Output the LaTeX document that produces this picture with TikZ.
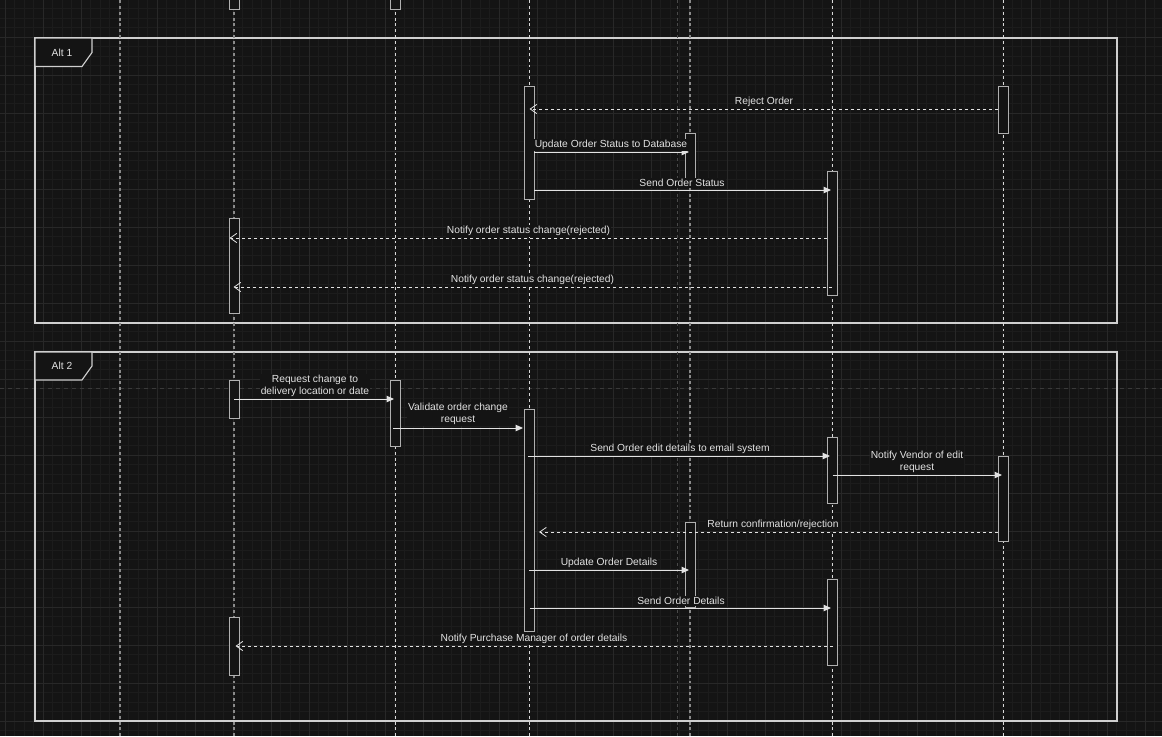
\documentclass[tikz,border=0pt]{standalone}
\usepackage{fontspec}
\setmainfont{Liberation Sans}
\usetikzlibrary{arrows.meta,fit}
\definecolor{bg}{HTML}{141414}
\definecolor{gridminor}{HTML}{1C1C1C}
\definecolor{gridmajor}{HTML}{282828}
\definecolor{fg}{HTML}{E2E2E2}
\definecolor{framec}{HTML}{CFCFCF}
\definecolor{boxc}{HTML}{B0B0B0}
\definecolor{lifew}{HTML}{D8D8D8}
\definecolor{lifeg}{HTML}{8A8A8A}
\definecolor{lifef}{HTML}{4A4A4A}
\definecolor{pagec}{HTML}{3A3A3A}
\begin{document}
\begin{tikzpicture}[x=0.75pt,y=-0.75pt,
  every node/.style={font=\fontsize{7.7pt}{9pt}\selectfont, text=fg},
  act/.style={draw=boxc, fill=bg, line width=0.7pt, inner sep=0pt, fit={#1}},
  msg/.style={draw=fg, line width=0.75pt, -{Triangle[length=5.5pt,width=4.8pt]}},
  ret/.style={draw=fg, line width=0.75pt, dash pattern=on 2.5pt off 2pt, -{Straight Barb[length=5pt,width=7pt,line width=0.6pt]}},
  lbl/.style={fill=bg, inner sep=0.8pt, align=center},
  frameline/.style={draw=framec, line width=0.85pt},
  tag/.style={draw=framec, fill=bg, line width=0.85pt},
  lifewhite/.style={draw=lifew, line width=0.7pt, dash pattern=on 2.2pt off 2.2pt},
  lifegray/.style={draw=lifeg, line width=1pt, dash pattern=on 2.2pt off 2.2pt},
  lifefaint/.style={draw=lifef, line width=0.7pt, dash pattern=on 2.2pt off 2.2pt},
  gminor/.style={draw=gridminor, line width=0.6pt},
  gmajor/.style={draw=gridmajor, line width=0.7pt}]
\useasboundingbox (0,0) rectangle (1162,736);
\clip (0,0) rectangle (1162,736);
\fill[bg] (0,0) rectangle (1162,736);
% grid
\foreach \i in {0,...,122} \draw[gminor] ({5.3+9.5*\i},0) -- ({5.3+9.5*\i},736);
\foreach \i in {0,...,78} \draw[gminor] (0,{-0.7+9.5*\i}) -- (1162,{-0.7+9.5*\i});
\foreach \i in {0,...,30} \draw[gmajor] ({5.3+38*\i},0) -- ({5.3+38*\i},736);
\foreach \i in {-1,...,18} \draw[gmajor] (0,{37.3+38*\i}) -- (1162,{37.3+38*\i});
% page break
\coordinate (pbL) at (0,388);
\coordinate (pbR) at (1162,388);
\draw[draw=pagec, line width=0.7pt, dash pattern=on 3pt off 3pt] (pbL) -- (pbR);
% frames
\coordinate (f1a) at (35,38);
\coordinate (f1b) at (1117,323);
\draw[frameline] (f1a) rectangle (f1b);
\draw[tag] (35,38) -- (92,38) -- (92,52.5) -- (82,66.5) -- (35,66.5) -- cycle;
\node (alt1) at (62,52.5) {Alt 1};
\coordinate (f2a) at (35,352);
\coordinate (f2b) at (1117,721);
\draw[frameline] (f2a) rectangle (f2b);
\draw[tag] (35,352) -- (92,352) -- (92,366) -- (82,380) -- (35,380) -- cycle;
\node (alt2) at (62,366) {Alt 2};
% lifelines
\foreach \x/\n in {120/a,234/b,690/e} {
  \coordinate (lt\n) at (\x,0); \coordinate (lb\n) at (\x,736);
  \draw[lifegray] (lt\n) -- (lb\n);
}
\foreach \x/\n in {395/c,529/d,832/f,1003/g} {
  \coordinate (lt\n) at (\x,0); \coordinate (lb\n) at (\x,736);
  \draw[lifewhite] (lt\n) -- (lb\n);
}
\coordinate (lth) at (677.5,0); \coordinate (lbh) at (677.5,736);
\draw[lifefaint] (lth) -- (lbh);
% activation boxes
\node[act={(229,-3)(239,9.5)}] (S1) {};
\node[act={(390.5,-3)(400.5,9.5)}] (S2) {};
\node[act={(524,86)(534,199)}] (A) {};
\node[act={(998,86)(1008,133)}] (B) {};
\node[act={(685,133)(695,182)}] (C) {};
\node[act={(827,171)(837,295)}] (D) {};
\node[act={(229,218)(239,313)}] (E) {};
\node[act={(229,380)(239,418)}] (F) {};
\node[act={(390.5,380)(400.5,446.5)}] (G) {};
\node[act={(524,409)(534,631)}] (H) {};
\node[act={(827,437)(837,503)}] (I) {};
\node[act={(998,456)(1008,541.5)}] (J) {};
\node[act={(685,522)(695,607)}] (K) {};
\node[act={(827,579)(837,665)}] (L) {};
\node[act={(229,617)(239,675)}] (M) {};
% messages Alt 1
\coordinate (m1s) at (998,109);   \coordinate (m1e) at (529.5,109);
\coordinate (m2s) at (534,152);   \coordinate (m2e) at (689,152);
\coordinate (m3s) at (534,190);   \coordinate (m3e) at (831,190);
\coordinate (m4s) at (827,238);   \coordinate (m4e) at (229.5,238);
\coordinate (m5s) at (832,287);   \coordinate (m5e) at (233.5,287);
\draw[ret] (m1s) -- (m1e);
\draw[msg] (m2s) -- (m2e);
\draw[msg] (m3s) -- (m3e);
\draw[ret] (m4s) -- (m4e);
\draw[ret] (m5s) -- (m5e);
% messages Alt 2
\coordinate (m6s) at (234,399);   \coordinate (m6e) at (394,399);
\coordinate (m7s) at (393,428);   \coordinate (m7e) at (523,428);
\coordinate (m8s) at (528,456);   \coordinate (m8e) at (830,456);
\coordinate (m9s) at (832.5,475); \coordinate (m9e) at (1002,475);
\coordinate (m10s) at (998,532);  \coordinate (m10e) at (539,532);
\coordinate (m11s) at (529,570);  \coordinate (m11e) at (689,570);
\coordinate (m12s) at (530,608);  \coordinate (m12e) at (831,608);
\coordinate (m13s) at (833,646);  \coordinate (m13e) at (235.5,646);
\draw[msg] (m6s) -- (m6e);
\draw[msg] (m7s) -- (m7e);
\draw[msg] (m8s) -- (m8e);
\draw[msg] (m9s) -- (m9e);
\draw[ret] (m10s) -- (m10e);
\draw[msg] (m11s) -- (m11e);
\draw[msg] (m12s) -- (m12e);
\draw[ret] (m13s) -- (m13e);
% labels
\node[lbl] (t1) at (764,101.5) {Reject Order};
\node[lbl] (t2) at (611,145) {Update Order Status to Database};
\node[lbl] (t3) at (682,183) {Send Order Status};
\node[lbl] (t4) at (528.5,231) {Notify order status change(rejected)};
\node[lbl] (t5) at (532.5,280) {Notify order status change(rejected)};
\node[lbl] (t6) at (315,386) {Request change to\\delivery location or date};
\node[lbl] (t7) at (458,414) {Validate order change\\request};
\node[lbl] (t8) at (680,449) {Send Order edit details to email system};
\node[lbl] (t9) at (917,462) {Notify Vendor of edit\\request};
\node[lbl] (t10) at (773,525) {Return confirmation/rejection};
\node[lbl] (t11) at (609,563) {Update Order Details};
\node[lbl] (t12) at (681,601) {Send Order Details};
\node[lbl] (t13) at (534,639) {Notify Purchase Manager of order details};
\end{tikzpicture}
\end{document}
